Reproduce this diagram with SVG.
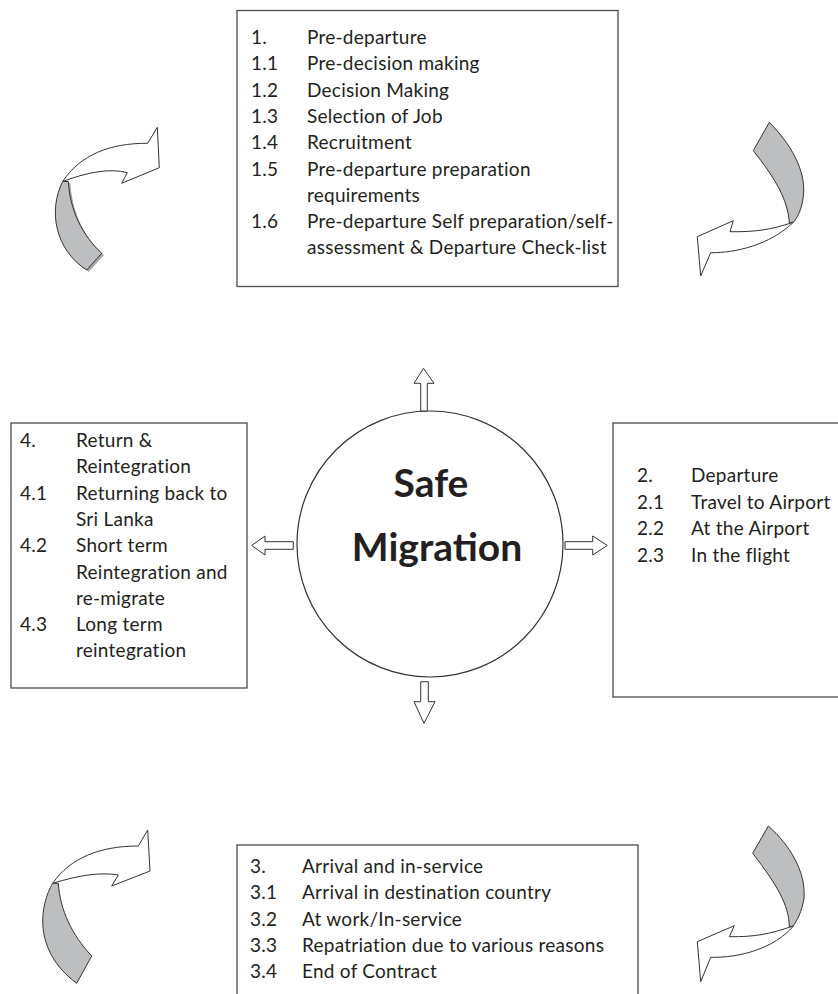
<svg xmlns="http://www.w3.org/2000/svg" width="838" height="994" viewBox="0 0 838 994">
  <style>
    .box { fill: #ffffff; stroke: #4d4d4d; stroke-width: 1.3; }
    .t { font-family: Lato, "Liberation Sans", sans-serif; font-size: 19px; letter-spacing: 0.25px; fill: #231f20; }
    .title { font-family: Lato, "Liberation Sans", sans-serif; font-size: 39px; font-weight: bold; fill: #231f20; text-anchor: middle; }
    .hollow { fill: #ffffff; stroke: #333333; stroke-width: 1; stroke-linejoin: miter; }
    .band { fill: #bcbec0; stroke: #333333; stroke-width: 1; }
    .shadow { fill: #a7a9ac; stroke: none; }
  </style>

  <rect width="838" height="994" fill="#ffffff"/>

  <!-- stage 1 -->
  <g id="pre-departure">
    <rect class="box" x="237" y="10.5" width="381" height="276"/>
    <text class="t" x="251" y="44">1.</text><text class="t" x="307" y="44">Pre-departure</text>
    <text class="t" x="251" y="70.3">1.1</text><text class="t" x="307" y="70.3">Pre-decision making</text>
    <text class="t" x="251" y="96.6">1.2</text><text class="t" x="307" y="96.6">Decision Making</text>
    <text class="t" x="251" y="122.9">1.3</text><text class="t" x="307" y="122.9">Selection of Job</text>
    <text class="t" x="251" y="149.2">1.4</text><text class="t" x="307" y="149.2">Recruitment</text>
    <text class="t" x="251" y="175.5">1.5</text><text class="t" x="307" y="175.5">Pre-departure preparation</text>
    <text class="t" x="307" y="201.8">requirements</text>
    <text class="t" x="251" y="228.1">1.6</text><text class="t" x="307" y="228.1">Pre-departure Self preparation/self-</text>
    <text class="t" x="307" y="254.4">assessment &amp; Departure Check-list</text>
  </g>

  <!-- stage 2 -->
  <g id="departure">
    <rect class="box" x="613" y="423" width="240" height="274"/>
    <text class="t" x="637" y="482">2.</text><text class="t" x="691" y="482">Departure</text>
    <text class="t" x="637" y="508.5">2.1</text><text class="t" x="691" y="508.5">Travel to Airport</text>
    <text class="t" x="637" y="535">2.2</text><text class="t" x="691" y="535">At the Airport</text>
    <text class="t" x="637" y="561.5">2.3</text><text class="t" x="691" y="561.5">In the flight</text>
  </g>

  <!-- stage 3 -->
  <g id="arrival">
    <rect class="box" x="237" y="845" width="401" height="170"/>
    <text class="t" x="250" y="873">3.</text><text class="t" x="302" y="873">Arrival and in-service</text>
    <text class="t" x="250" y="899.3">3.1</text><text class="t" x="302" y="899.3">Arrival in destination country</text>
    <text class="t" x="250" y="925.6">3.2</text><text class="t" x="302" y="925.6">At work/In-service</text>
    <text class="t" x="250" y="951.9">3.3</text><text class="t" x="302" y="951.9">Repatriation due to various reasons</text>
    <text class="t" x="250" y="978.2">3.4</text><text class="t" x="302" y="978.2">End of Contract</text>
  </g>

  <!-- stage 4 -->
  <g id="return">
    <rect class="box" x="11" y="423" width="236" height="265"/>
    <text class="t" x="20" y="447">4.</text><text class="t" x="76" y="447">Return &amp;</text>
    <text class="t" x="76" y="473.3">Reintegration</text>
    <text class="t" x="20" y="499.6">4.1</text><text class="t" x="76" y="499.6">Returning back to</text>
    <text class="t" x="76" y="525.9">Sri Lanka</text>
    <text class="t" x="20" y="552.2">4.2</text><text class="t" x="76" y="552.2">Short term</text>
    <text class="t" x="76" y="578.5">Reintegration and</text>
    <text class="t" x="76" y="604.8">re-migrate</text>
    <text class="t" x="20" y="631.1">4.3</text><text class="t" x="76" y="631.1">Long term</text>
    <text class="t" x="76" y="657.4">reintegration</text>
  </g>

  <!-- hub -->
  <g id="safe-migration">
    <circle cx="430" cy="544" r="133" fill="#ffffff" stroke="#333333" stroke-width="1.2"/>
    <text class="title" x="431" y="497">Safe</text>
    <text class="title" x="437" y="561">Migration</text>
  </g>

  <g id="connectors">
    <!-- block arrows out of the hub -->
    <path class="hollow" d="M420.7,411 L420.7,383.3 L414,383.3 L423.5,368.3 L434,383.3 L427.3,383.3 L427.3,411 Z"/>
    <path class="hollow" d="M565,541.7 L592.7,541.7 L592.7,536 L607.3,545.5 L592.7,555 L592.7,549.3 L565,549.3 Z"/>
    <path class="hollow" d="M293.3,541.7 L265,541.7 L265,536 L251.7,545.5 L265,555 L265,549.3 L293.3,549.3 Z"/>
    <path class="hollow" d="M420.7,681.7 L428.3,681.7 L428.3,701.7 L435,701.7 L424,723.3 L414,701.7 L420.7,701.7 Z"/>

    <!-- curved cycle arrows: top left -->
    <path class="shadow" d="M65,183 C50,210 57,250 88.7,272 L104,255 C84,237 72,212 70.5,183 Z"/>
    <path class="band" d="M62.7,181.5 C48,210 55,250 86.7,270 L101.7,253.3 C82,235 70,210 68.3,181.5 Z"/>
    <path class="hollow" d="M62.7,181.5 C80,155 110,143 147.7,143.3 L157.3,127.3 L159.3,167.7 L121.7,183.3 L127.3,172.7 C110,168 88,172 62.7,181.5 Z"/>

    <!-- top right -->
    <path class="band" d="M769.3,122.3 C790,143 806,170 803.5,195 C802,210 797,218 793.3,222.3 L789.3,222.7 C788,200 775,178 753.3,150.7 Z"/>
    <path class="hollow" d="M793.3,222.3 C770,230 755,232 730,231.7 L733.3,220.7 L697.3,236.7 L700.7,276 L710.7,252.7 C735,253 770,245 793.3,222.3 Z"/>

    <!-- bottom left -->
    <path class="band" d="M52.7,883.3 C40,905 32,950 76.7,983.3 L91.7,956 C72,935 60,910 58.3,883.3 Z"/>
    <path class="hollow" d="M52.7,883.3 C70,858 100,846 138.3,846 L147.7,830 L150,871 L111.7,886 L118.3,875 C100,872 80,875 52.7,883.3 Z"/>

    <!-- bottom right -->
    <path class="band" d="M768.3,826 C790,845 806,872 804,898 C802,912 797,920 793.3,926 L789.3,926.7 C789,905 777,885 752.7,853.3 Z"/>
    <path class="hollow" d="M793.3,926 C770,934 755,937 729.3,936.7 L734.3,925.7 L697.3,941.7 L700.7,981.7 L710.7,957.3 C740,958 775,948 793.3,926 Z"/>
  </g>
</svg>
